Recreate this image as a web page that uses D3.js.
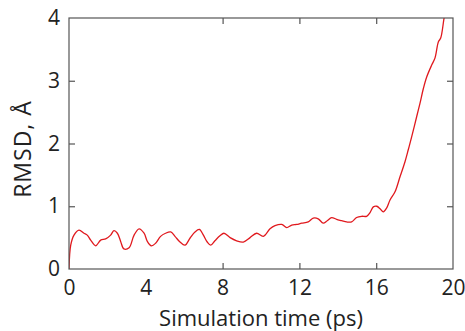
<!DOCTYPE html>
<html>
<head>
<meta charset="utf-8">
<script src="https://cdn.jsdelivr.net/npm/d3@7"></script>
<style>
  body { margin: 0; background: #fff; }
  svg text { font-family: "Open Sans", "DejaVu Sans", sans-serif; fill: #222; }
</style>
</head>
<body>
<div id="chart"></div>
<script>
// simulation time (ps) and RMSD (Angstrom)
const times = [0, 0.09, 0.26, 0.52, 0.78, 0.95, 1.13, 1.39, 1.65, 1.91, 2.17, 2.34, 2.52, 2.69, 2.86, 3.13,
    3.39, 3.65, 3.91, 4.08, 4.29, 4.51, 4.77, 5.03, 5.3, 5.52, 5.78, 6.04, 6.3, 6.56, 6.79, 7.0, 7.2,
    7.38, 7.6, 7.86, 8.07, 8.39, 8.73, 9.08, 9.43, 9.77, 10.12, 10.47, 10.73, 11.08, 11.34, 11.6, 11.86,
    12.12, 12.46, 12.72, 12.98, 13.24, 13.45, 13.68, 13.94, 14.2, 14.46, 14.72, 14.98, 15.24, 15.5,
    15.68, 15.85, 16.03, 16.2, 16.37, 16.54, 16.72, 16.98, 17.24, 17.5, 17.67, 17.85, 18.11, 18.28,
    18.46, 18.63, 18.89, 19.06, 19.24, 19.36, 19.53, 19.6];
const rmsd = [0, 0.38, 0.54, 0.62, 0.57, 0.54, 0.46, 0.37, 0.46, 0.48, 0.54, 0.61, 0.57, 0.44, 0.32, 0.34,
    0.54, 0.64, 0.57, 0.44, 0.37, 0.41, 0.52, 0.57, 0.59, 0.52, 0.43, 0.38, 0.49, 0.59, 0.63, 0.54, 0.43,
    0.38, 0.45, 0.53, 0.57, 0.5, 0.45, 0.43, 0.5, 0.57, 0.52, 0.64, 0.69, 0.71, 0.66, 0.7, 0.71,
    0.73, 0.75, 0.81, 0.8, 0.73, 0.77, 0.82, 0.79, 0.77, 0.75, 0.75, 0.82, 0.84, 0.84,
    0.9, 0.99, 1.0, 0.96, 0.91, 0.97, 1.1, 1.23, 1.47, 1.71, 1.9, 2.11, 2.43, 2.64,
    2.88, 3.06, 3.25, 3.36, 3.62, 3.68, 3.99, 4.1];
const xTicks = [0, 4, 8, 12, 16, 20];
const yTicks = [0, 1, 2, 3, 4];

const width = 465, height = 331;
const margin = { top: 18, right: 12, bottom: 62, left: 69 };
const w = width - margin.left - margin.right;
const h = height - margin.top - margin.bottom;

const svg = d3.select('#chart')
    .append('svg')
    .attr('width', width)
    .attr('height', height);

const g = svg.append('g')
    .attr('transform', `translate(${margin.left},${margin.top})`);

const x = d3.scaleLinear().domain([0, 20]).range([0, w]);
const y = d3.scaleLinear().domain([0, 4]).range([h, 0]);

g.append('clipPath')
    .attr('id', 'clip')
    .append('rect')
    .attr('width', w)
    .attr('height', h);

const data = times.map((t, i) => ({ t: t, v: rmsd[i] }));

const line = d3.line()
    .x(d => x(d.t))
    .y(d => y(d.v))
    .curve(d3.curveCatmullRom);

g.append('path')
    .datum(data)
    .attr('clip-path', 'url(#clip)')
    .attr('fill', 'none')
    .attr('stroke', '#e0191e')
    .attr('stroke-width', 1.3)
    .attr('d', line);

// ticks point inward on all four sides
const tickLen = 6;
function styleAxis(sel) {
    sel.select('.domain').remove();
    sel.selectAll('line').attr('stroke', '#555').attr('stroke-width', 1.2);
    sel.selectAll('text').style('font-size', '21px');
}

g.append('g')
    .attr('transform', `translate(0,${h})`)
    .call(d3.axisBottom(x).tickValues(xTicks).tickSize(-tickLen).tickPadding(11).tickFormat(d3.format('d')))
    .call(styleAxis);

g.append('g')
    .call(d3.axisTop(x).tickValues(xTicks).tickSize(-tickLen).tickFormat(''))
    .call(styleAxis);

g.append('g')
    .call(d3.axisLeft(y).tickValues(yTicks).tickSize(-tickLen).tickPadding(9).tickFormat(d3.format('d')))
    .call(styleAxis);

g.append('g')
    .attr('transform', `translate(${w},0)`)
    .call(d3.axisRight(y).tickValues(yTicks).tickSize(-tickLen).tickFormat(''))
    .call(styleAxis);

// hide end ticks that sit on the frame
g.selectAll('.tick line').filter(d => d === 0 || d === 20 || d === 4).remove();

g.append('rect')
    .attr('width', w)
    .attr('height', h)
    .attr('fill', 'none')
    .attr('stroke', '#555')
    .attr('stroke-width', 1.2);

svg.append('text')
    .attr('x', margin.left + w / 2)
    .attr('y', 326)
    .attr('text-anchor', 'middle')
    .style('font-size', '22px')
    .text('Simulation time (ps)');

svg.append('text')
    .attr('transform', `translate(31,149) rotate(-90)`)
    .attr('text-anchor', 'middle')
    .style('font-size', '23px')
    .style('letter-spacing', '1px')
    .text('RMSD, Å');
</script>
</body>
</html>
